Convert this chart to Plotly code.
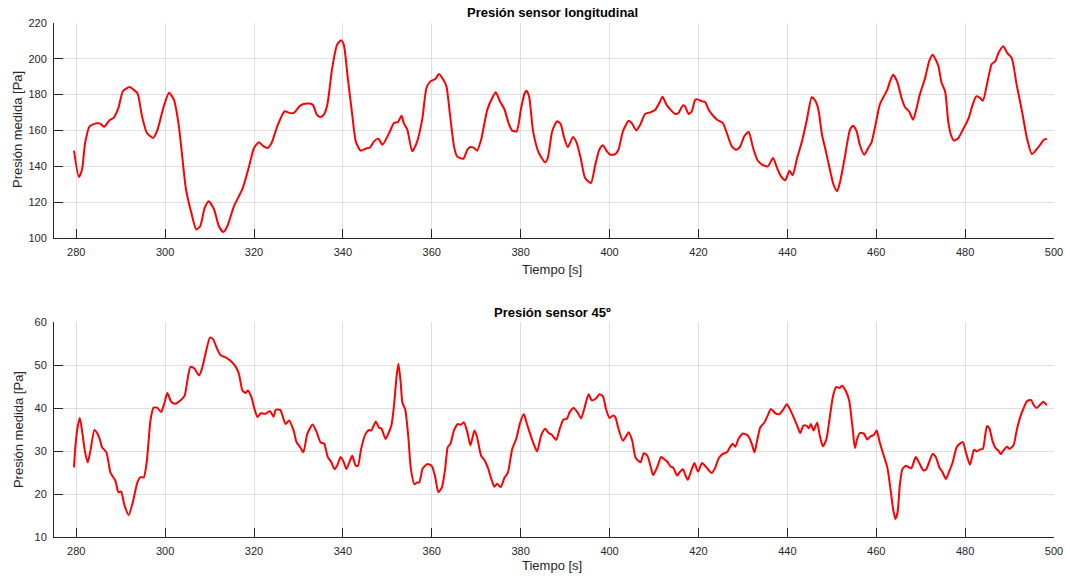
import plotly.graph_objects as go

# ---- data: top chart (Presión sensor longitudinal) ----
t_long = [279.5, 280.6, 281.3, 282, 283, 284.6, 285.4, 286.3, 287.5, 288.4, 289.5, 290.5, 292, 292.8, 293.8,
          294.8, 295.9, 297.3, 298.3, 299.7, 300.9, 302, 303.1, 304.7, 305.9, 307, 307.9, 308.9, 309.8, 311,
          312.1, 313.1, 314, 315.5, 317.4, 318.9, 320, 321.1, 322.1, 323, 323.9, 325.3, 326.9, 327.9, 329,
          330.4, 332, 333.2, 334.1, 334.9, 335.7, 336.5, 337.6, 338.7, 339.6, 340.2, 341.1, 342.1, 342.9, 344,
          345.1, 346.1, 347, 348, 348.9, 350.4, 351.5, 352.4, 353.2, 353.7, 354.5, 355.6, 356.6, 357.9, 358.8,
          359.7, 360.8, 361.6, 362.6, 363.3, 364.1, 365, 365.7, 367.1, 368, 368.7, 369.5, 370.2, 371.1, 372.5,
          373.6, 374.4, 375.4, 376.3, 377.4, 378.1, 379.1, 380.1, 380.9, 381.3, 381.9, 382.8, 384.1, 385.5,
          386.1, 387.1, 388.2, 389, 389.7, 390.6, 391.8, 392.6, 393.5, 394.5, 395.8, 396.8, 397.7, 398.5, 399.4,
          400.2, 401.3, 402, 403, 404.3, 405, 406, 406.9, 408, 409.2, 410.3, 411.2, 411.9, 412.8, 413.7, 414.8,
          415.5, 416.5, 417, 417.8, 418.5, 419.3, 420, 420.8, 421.5, 422.3, 423.3, 424.2, 425.5, 426.4, 427.5,
          428.5, 429.4, 430.3, 431.3, 432.3, 433.3, 434.3, 435.6, 436.8, 437.7, 438.6, 439.5, 440.5, 441.2,
          442.2, 443.3, 444.4, 445.5, 446.3, 447, 447.8, 448.6, 449.5, 450.4, 451.2, 451.9, 452.9, 454.1, 454.8,
          455.6, 456.3, 457.3, 458.2, 458.9, 459.7, 460.8, 461.6, 462.5, 463.1, 463.8, 464.7, 465.7, 466.5,
          467.4, 468.3, 469.1, 469.8, 471, 471.9, 472.7, 473.4, 474, 474.7, 475.5, 476.2, 476.8, 477.5, 478.5,
          479.5, 480.8, 481.7, 482.5, 483.2, 484, 484.9, 486, 486.8, 487.5, 488.6, 489.5, 490.5, 491.6, 492.8,
          493.9, 495, 496, 496.9, 497.7, 498.4]
p_long = [148.7, 134, 138, 153, 162.3, 164, 163.8, 162, 165.7, 167, 172.6, 181.9, 184.3, 183, 180.6,
          168, 158.6, 155.8, 160.5, 173.5, 181, 177, 162.3, 127, 114, 104.7, 106.5, 116.7, 120.5, 116,
          106.5, 103.3, 106.5, 117.7, 127.3, 140, 150.2, 153.4, 151.2, 150.2, 152.7, 162.7, 170.7, 169.8, 169.8,
          173.9, 175, 174.4, 169, 167.4, 168.8, 174.4, 194.9, 207.9, 210.3, 207.9, 189.3, 168.8, 153.9, 148.7,
          149.8, 150.5, 153.9, 155.4, 152, 158.5, 164.1, 164.7, 168.2, 164.1, 160.4, 148.3, 153, 166.9, 183.7,
          187.4, 188.7, 191.5, 188.3, 184.6, 168.8, 151.1, 145.5, 144.2, 149.2, 150.7, 150.2, 148.7, 154.8, 171.6,
          178.1, 181.3, 175.9, 172.1, 163.2, 159.9, 159.5, 172.5, 180.9, 182.2, 179, 159.5, 147.4, 142.2,
          144.6, 159.5, 165.1, 163.6, 156.7, 150.7, 156.3, 153, 144.6, 133.4, 130.6, 140.9, 149.2, 151.7, 148.3,
          146.4, 146.8, 149.2, 159.5, 165.4, 164.1, 160, 163.2, 169.2, 170.1, 171.6, 175.3, 178.8, 174.4, 171.6, 169.2,
          169.7, 174, 173.4, 169.2, 170.7, 177.2, 177.2, 176.2, 175.9, 171.6, 168.2, 166, 164.1, 158.5, 151.1,
          149.2, 151.1, 156.7, 159.1, 150.2, 143.3, 140.9, 139.9, 144.6, 139, 134.3, 132.1, 137.5, 134.9,
          144.6, 153.9, 166, 178.5, 176.6, 171.6, 157.6, 149.2, 139, 129.7, 126, 131.5, 144.6, 160.4, 162.6,
          159.5, 152, 146.4, 150.2, 153, 161.5, 174.4, 178.5, 182.8, 187.4, 191.1, 187.4, 178.1, 172.9,
          170.7, 166, 172.5, 180, 189.3, 198.6, 202.3, 199.5, 195.8, 186.6, 181.8, 165.1, 157.6, 154.3, 155.8,
          160.4, 166.9, 174.4, 179, 178.5, 176.6, 185.5, 197.1, 198.6, 203.2, 207, 203.2, 200.4, 185.5, 170.7,
          155.8, 146.8, 149.2, 152, 154.8, 155.4]

# ---- data: bottom chart (Presión sensor 45º) ----
t_45 = [279.5, 279.8, 280.3, 280.8, 281.3, 282, 282.6, 283.2, 284.1, 284.8, 285.4, 285.8, 286.8, 287.7, 288.8,
        289.5, 290.1, 290.8, 291.8, 292.8, 293.7, 294.4, 295.2, 295.9, 296.7, 297.4, 298.2, 299.1, 299.8, 300.5,
        301.4, 302.3, 303.5, 304.4, 305, 305.7, 306.6, 307.6, 308.3, 309.1, 310.1, 310.8, 311.7, 312.5, 313.8,
        314.7, 315.9, 316.6, 317.4, 318.1, 318.6, 319.4, 320, 320.8, 321.5, 322.6, 323.6, 324.4, 324.9, 325.9,
        326.4, 327.1, 327.9, 328.9, 329.6, 330.4, 331.1, 332, 333.2, 334.1, 335, 335.8, 336.6, 337.4, 338.1,
        338.7, 339.5, 340.2, 340.8, 341.6, 342.1, 342.9, 343.4, 344.1, 345.1, 345.9, 346.4, 347.4, 348.1, 348.7,
        349.6, 350.1, 350.9, 351.5, 352.1, 352.5, 353, 353.4, 354, 354.7, 355.3, 356.1, 356.7, 357.2, 357.9,
        358.5, 359.1, 360, 360.7, 361.5, 362.3, 363, 363.6, 364.2, 365, 365.9, 366.5, 367.2, 368, 368.7, 369.6,
        370.2, 371.1, 371.8, 372.6, 373.4, 374.1, 374.7, 375.5, 376.4, 377.1, 378.1, 379, 379.8, 380.7, 381.3,
        382, 382.8, 383.7, 384.6, 385.5, 386.3, 387, 388, 388.8, 389.6, 390.4, 391, 391.9, 392.8, 393.6, 394.3,
        395.3, 396, 397, 397.7, 398.5, 399.2, 400, 400.8, 401.3, 402, 403, 403.8, 404.3, 405.1, 405.8, 406.4,
        407, 407.7, 408.5, 409.2, 409.8, 410.7, 411.6, 412.4, 413.1, 413.7, 414.3, 415.2, 415.8, 416.5, 417.1,
        417.6, 418.3, 419.1, 419.9, 420.8, 421.8, 423, 423.8, 424.5, 425.4, 426.4, 427.1, 427.7, 428.3, 429,
        430, 431.1, 432, 432.6, 433.2, 433.9, 434.8, 435.6, 436.3, 437.3, 438.2, 439.1, 439.9, 440.6, 441.4,
        442.3, 442.9, 443.6, 444.3, 444.8, 445.3, 445.9, 446.7, 447.3, 448, 448.8, 449.5, 450.3, 451, 451.8,
        452.3, 453.1, 453.9, 454.7, 455.2, 455.7, 456.3, 457.2, 458, 458.7, 459.5, 460.1, 460.8, 461.7, 462.5,
        463.1, 463.8, 464.3, 464.8, 465.3, 465.9, 466.7, 467.4, 467.9, 468.9, 469.6, 470.6, 471.2, 471.9, 472.7,
        473.4, 474.2, 474.9, 475.7, 476.4, 477.2, 478.1, 478.9, 479.5, 480.2, 481.1, 482, 482.6, 483.4, 484,
        484.9, 485.5, 486.2, 487, 487.5, 488, 488.6, 489.4, 490, 490.9, 491.6, 492.4, 493.1, 493.9, 494.8,
        495.5, 496.1, 496.9, 497.6, 498.4]
p_45 = [26.2, 30.9, 35.5, 37.7, 34.8, 29.7, 27.4, 30.1, 34.9, 34, 32.4, 30.9, 29.7, 25, 23.1,
        20.4, 20.6, 17.6, 15.1, 18.4, 22.5, 23.9, 23.9, 27.8, 37.1, 40.1, 40.1, 39.1, 41, 43.5,
        41.4, 41, 41.8, 42.9, 46.4, 49.6, 49.2, 47.6, 49.2, 52.7, 56.4, 56, 53.8, 52.3, 51.7,
        51, 49.6, 48, 44.1, 43.5, 44.1, 42.6, 40.2, 37.9, 38.8, 38.7, 39.3, 38, 39.6, 39.6,
        38.3, 36.3, 37.1, 34.8, 32, 30.9, 29.7, 34, 36.2, 34.4, 32, 31.7, 28.6, 27.4, 25.8,
        26.6, 28.6, 27.4, 25.8, 27.8, 28.9, 26.6, 26.6, 30.5, 34, 34.9, 34.8, 36.9, 35.5, 35.2,
        32.8, 33.8, 35.9, 40.6, 47.6, 50.3, 46, 41.2, 39.8, 33.6, 25.8, 22.3, 22.7, 22.7, 25.8,
        26.6, 27, 26.5, 24.3, 20.4, 21.6, 25.8, 30.9, 31.7, 34.8, 36.3, 36.1, 36.7, 34.4, 31.3, 34.8,
        33.2, 28.9, 28, 26.2, 23.5, 21.7, 22.4, 21.6, 23.9, 24.9, 30.5, 32.8, 36.3, 38.6, 36.7,
        34.4, 32, 29.9, 33.6, 35.2, 34.2, 33.8, 32.6, 35.2, 37.3, 37.5, 39, 40, 39, 37.6, 39.8,
        43.2, 41.8, 42.3, 43.2, 42.8, 39.8, 37.7, 38.3, 37.9, 35.2, 32.4, 33.6, 34.4, 32.4, 28.6, 27.8,
        27.4, 29.5, 28.9, 26.6, 24.4, 26.2, 28.6, 28, 27.4, 26.4, 26.2, 24.3, 25.1, 25.8, 24.3,
        23.3, 25.2, 27.2, 25.2, 27.2, 26.2, 24.9, 26.2, 28.2, 29.3, 29.7, 30.9, 31.7, 31, 32.8,
        34.1, 33.6, 31.7, 29.7, 32.4, 35.5, 36.6, 38.3, 39.8, 38.8, 38.6, 39.7, 40.9, 39.7, 37.9,
        35.7, 34.2, 35.9, 35.9, 35.3, 36.3, 34.8, 36.6, 33.6, 31.1, 32.8, 37.5, 42.9, 44.9, 44.7,
        45.2, 44.1, 41.8, 35.2, 30.7, 32.8, 34.2, 34.1, 32.7, 33.4, 33.8, 34.8, 32, 28.9, 26.2,
        22, 16.5, 14.2, 15.7, 22, 25.8, 26.6, 26.2, 26, 28.6, 27.4, 25.5, 25.7, 27.4, 29.3,
        28.6, 26.2, 25.1, 23.5, 25.2, 27.4, 30.9, 31.8, 32.1, 29.6, 26.8, 30.3, 29.9, 30.4, 30.5,
        35.8, 35.2, 32.2, 30.5, 30.1, 29.3, 30.1, 31, 30.5, 31.4, 34.8, 37.9, 39.8, 41.6, 41.9,
        40.6, 40, 40.8, 41.5, 40.7]

x_ticks = [280, 300, 320, 340, 360, 380, 400, 420, 440, 460, 480, 500]
y1_ticks = [100, 120, 140, 160, 180, 200, 220]
y2_ticks = [10, 20, 30, 40, 50, 60]

titles = ["Presión sensor longitudinal", "Presión sensor 45º"]
x_label = "Tiempo [s]"
y_label = "Presión medida [Pa]"

FONT = "Arial, 'Liberation Sans', Helvetica, sans-serif"
AX = "#262626"
GRID = "#dfdfdf"

fig = go.Figure()
line = dict(color="#ff0000", width=2, shape="spline", smoothing=0.6)
fig.add_trace(go.Scatter(x=t_long, y=p_long, mode="lines", line=line, xaxis="x", yaxis="y",
                         showlegend=False, hoverinfo="x+y"))
fig.add_trace(go.Scatter(x=t_45, y=p_45, mode="lines", line=line, xaxis="x2", yaxis="y2",
                         showlegend=False, hoverinfo="x+y"))

axis_common = dict(showline=True, linecolor=AX, linewidth=1, mirror=False, automargin=False,
                   ticks="inside", ticklen=9, tickcolor=AX, tickwidth=1,
                   showgrid=True, gridcolor=GRID, gridwidth=1, zeroline=False,
                   tickfont=dict(family=FONT, size=11, color=AX))

fig.update_layout(
    width=1065, height=579,
    paper_bgcolor="white", plot_bgcolor="white",
    margin=dict(l=54, r=11, t=23, b=42, autoexpand=False),
    font=dict(family=FONT, color=AX),
    xaxis=dict(domain=[0, 1], range=[275, 500], tickvals=x_ticks, anchor="y",
               ticklabelstandoff=4, **axis_common),
    yaxis=dict(domain=[0.582, 1], range=[100, 220], tickvals=y1_ticks, anchor="x",
               ticklabelstandoff=4, **axis_common),
    xaxis2=dict(domain=[0, 1], range=[275, 500], tickvals=x_ticks, anchor="y2",
                ticklabelstandoff=4, **axis_common),
    yaxis2=dict(domain=[0, 0.418], range=[10, 60], tickvals=y2_ticks, anchor="x2",
                ticklabelstandoff=4, **axis_common),
)

ann = []
ann.append(dict(text="<b>" + titles[0] + "</b>", x=0.498, y=1.0195, xref="paper", yref="paper",
                showarrow=False, xanchor="center", yanchor="middle",
                font=dict(family=FONT, size=13, color="black")))
ann.append(dict(text="<b>" + titles[1] + "</b>", x=0.498, y=0.4377, xref="paper", yref="paper",
                showarrow=False, xanchor="center", yanchor="middle",
                font=dict(family=FONT, size=13, color="black")))
for yy in [0.5214, -0.0564]:
    ann.append(dict(text=x_label, x=0.498, y=yy, xref="paper", yref="paper", showarrow=False,
                    xanchor="center", yanchor="middle", font=dict(family=FONT, size=13, color=AX)))
for yy in [0.792, 0.208]:
    ann.append(dict(text=y_label, x=-0.036, y=yy, xref="paper", yref="paper", showarrow=False,
                    textangle=-90, xanchor="center", yanchor="middle",
                    font=dict(family=FONT, size=13, color=AX)))
fig.update_layout(annotations=ann)

fig.write_html("out.html")
